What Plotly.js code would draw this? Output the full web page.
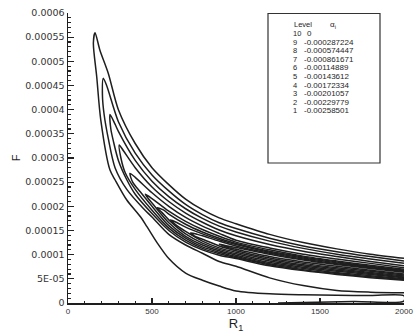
<!DOCTYPE html>
<html><head><meta charset="utf-8">
<script src="https://cdn.plot.ly/plotly-3.0.1.min.js"></script>
<style>html,body{margin:0;padding:0;background:#fff}#chart{width:414px;height:333px}</style>
</head><body><div id="chart"></div>
<script>
// Values of F are in units of 1e-4
const F_UNIT = 1e-4;

const L10_upR = [161, 190, 240, 300, 400, 500, 600, 700, 800, 900, 1000, 1200, 1400, 1600, 1800, 2000];
const L10_upF = [5.59, 5.23, 4.75, 4.0, 3.3, 2.8, 2.45, 2.15, 1.93, 1.76, 1.64, 1.42, 1.25, 1.12, 1.01, 0.925];
const L10_loR = [161, 151, 171, 195, 250, 280, 350, 430, 470, 530, 600, 700, 800, 900, 1000, 1200, 1400, 1600, 1800, 2000, 2000, 1700, 1250];
const L10_loF = [5.59, 5.38, 4.68, 3.79, 2.75, 2.55, 2.13, 1.79, 1.58, 1.25, 0.92, 0.62, 0.47, 0.35, 0.25, 0.19, 0.17, 0.16, 0.155, 0.15, 0.04, 0.03, 0.0];

const L9_upR = [210, 230, 300, 400, 500, 600, 700, 800, 900, 1000, 1200, 1400, 1600, 1800, 2000];
const L9_upF = [4.65, 4.5, 3.75, 3.1, 2.65, 2.32, 2.04, 1.83, 1.66, 1.54, 1.34, 1.18, 1.06, 0.96, 0.87];
const L9_loR = [210, 205, 215, 240, 280, 350, 450, 500, 600, 700, 800, 900, 1000, 1200, 1400, 1600, 1800, 2000];
const L9_loF = [4.65, 4.3, 3.9, 3.4, 2.8, 2.35, 1.95, 1.78, 1.42, 1.2, 1.03, 0.86, 0.76, 0.52, 0.36, 0.26, 0.225, 0.21];

const L8_upR = [250, 280, 300, 400, 500, 600, 700, 800, 900, 1000, 1200, 1400, 1600, 1800, 2000];
const L8_upF = [3.90, 3.7, 3.55, 2.95, 2.52, 2.2, 1.95, 1.75, 1.59, 1.47, 1.28, 1.13, 1.01, 0.91, 0.82];
const L8_loR = [250, 255, 270, 300, 350, 400, 500, 600, 700, 800, 900, 1000, 1200, 1400, 1600, 1800, 2000];
const L8_loF = [3.90, 3.6, 3.35, 2.95, 2.55, 2.25, 1.85, 1.50, 1.26, 1.10, 0.99, 0.92, 0.77, 0.67, 0.59, 0.525, 0.47];

const L7_upR = [305, 330, 400, 500, 600, 700, 800, 900, 1000, 1200, 1400, 1600, 1800, 2000];
const L7_upF = [3.27, 3.15, 2.8, 2.4, 2.1, 1.86, 1.67, 1.51, 1.39, 1.21, 1.07, 0.96, 0.86, 0.77];
const L7_loR = [305, 315, 340, 400, 500, 600, 700, 800, 900, 1000, 1200, 1400, 1600, 1800, 2000];
const L7_loF = [3.27, 3.0, 2.7, 2.35, 1.92, 1.55, 1.30, 1.13, 1.02, 0.94, 0.79, 0.69, 0.61, 0.545, 0.485];

const L6_upR = [369, 400, 500, 600, 700, 800, 900, 1000, 1200, 1400, 1600, 1800, 2000];
const L6_upF = [2.68, 2.6, 2.28, 2.0, 1.77, 1.59, 1.44, 1.30, 1.14, 1.01, 0.91, 0.82, 0.73];
const L6_loR = [369, 385, 430, 500, 600, 700, 800, 900, 1000, 1200, 1400, 1600, 1800, 2000];
const L6_loF = [2.68, 2.5, 2.3, 2.0, 1.60, 1.34, 1.16, 1.05, 0.96, 0.81, 0.715, 0.63, 0.565, 0.50];

const L5_upR = [460, 500, 600, 700, 800, 900, 1000, 1200, 1400, 1600, 1800, 2000];
const L5_upF = [2.25, 2.16, 1.9, 1.69, 1.52, 1.38, 1.26, 1.10, 0.97, 0.87, 0.78, 0.70];
const L5_loR = [460, 480, 500, 600, 700, 800, 900, 1000, 1200, 1400, 1600, 1800, 2000];
const L5_loF = [2.25, 2.15, 2.07, 1.66, 1.38, 1.20, 1.08, 0.99, 0.84, 0.74, 0.655, 0.59, 0.52];

const L4_upR = [530, 570, 600, 700, 800, 900, 1000, 1200, 1400, 1600, 1800, 2000];
const L4_upF = [1.97, 1.92, 1.84, 1.63, 1.47, 1.34, 1.23, 1.07, 0.95, 0.85, 0.76, 0.68];
const L4_loR = [530, 560, 600, 700, 800, 900, 1000, 1200, 1400, 1600, 1800, 2000];
const L4_loF = [1.97, 1.87, 1.72, 1.43, 1.24, 1.11, 1.02, 0.87, 0.765, 0.68, 0.61, 0.54];

const L3_upR = [610, 650, 700, 800, 900, 1000, 1200, 1400, 1600, 1800, 2000];
const L3_upF = [1.72, 1.66, 1.57, 1.43, 1.31, 1.21, 1.05, 0.93, 0.83, 0.745, 0.665];
const L3_loR = [610, 640, 700, 800, 900, 1000, 1200, 1400, 1600, 1800, 2000];
const L3_loF = [1.72, 1.62, 1.48, 1.28, 1.14, 1.05, 0.90, 0.79, 0.705, 0.63, 0.56];

const L2_upR = [730, 770, 800, 900, 1000, 1200, 1400, 1600, 1800, 2000];
const L2_upF = [1.45, 1.42, 1.39, 1.28, 1.18, 1.03, 0.91, 0.81, 0.73, 0.65];
const L2_loR = [730, 760, 800, 900, 1000, 1200, 1400, 1600, 1800, 2000];
const L2_loF = [1.45, 1.37, 1.32, 1.18, 1.08, 0.93, 0.82, 0.73, 0.655, 0.58];

const L1_upR = [900, 950, 1000, 1200, 1400, 1600, 1800, 2000];
const L1_upF = [1.22, 1.18, 1.15, 1.01, 0.89, 0.795, 0.715, 0.635];
const L1_loR = [900, 950, 1000, 1200, 1400, 1600, 1800, 2000];
const L1_loF = [1.22, 1.15, 1.11, 0.96, 0.85, 0.76, 0.68, 0.60];

const levelNames = ['10', '9', '8', '7', '6', '5', '4', '3', '2', '1'];
const alphaValues = ['0', '-0.000287224', '-0.000574447', '-0.000861671', '-0.00114889',
  '-0.00143612', '-0.00172334', '-0.00201057', '-0.00229779', '-0.00258501'];

const yTickVals = [0, 0.00005, 0.0001, 0.00015, 0.0002, 0.00025, 0.0003, 0.00035, 0.0004, 0.00045, 0.0005, 0.00055, 0.0006];
const yTickText = ['0', '5E-05', '0.0001', '0.00015', '0.0002', '0.00025', '0.0003', '0.00035', '0.0004', '0.00045', '0.0005', '0.00055', '0.0006'];
const xTickVals = [0, 500, 1000, 1500, 2000];

const contours = [
  [L10_upR, L10_upF, L10_loR, L10_loF],
  [L9_upR, L9_upF, L9_loR, L9_loF],
  [L8_upR, L8_upF, L8_loR, L8_loF],
  [L7_upR, L7_upF, L7_loR, L7_loF],
  [L6_upR, L6_upF, L6_loR, L6_loF],
  [L5_upR, L5_upF, L5_loR, L5_loF],
  [L4_upR, L4_upF, L4_loR, L4_loF],
  [L3_upR, L3_upF, L3_loR, L3_loF],
  [L2_upR, L2_upF, L2_loR, L2_loF],
  [L1_upR, L1_upF, L1_loR, L1_loF]
];

const traces = contours.map((c, i) => {
  const [uR, uF, lR, lF] = c;
  const x = lR.slice().reverse().concat(uR.slice(1));
  const y = lF.slice().reverse().concat(uF.slice(1)).map(v => v * F_UNIT);
  return {
    type: 'scatter', mode: 'lines', x: x, y: y, name: 'Level ' + levelNames[i],
    line: {color: '#1e1e1e', width: 1.5, shape: 'spline', smoothing: 0.8},
    showlegend: false, hoverinfo: 'skip'
  };
});

// plot area in pixels: x 68..404, y 13..303
const PX0 = 68, PW = 336, PY0 = 13, PH = 290;
const px = v => (v - PX0) / PW;
const py = v => (PY0 + PH - v) / PH;

const ann = [];
const tfont = {family: 'Liberation Sans, Arial, sans-serif', size: 8, color: '#1e1e1e'};
const lfont = {family: 'Liberation Sans, Arial, sans-serif', size: 7.5, color: '#1e1e1e'};
ann.push({xref: 'paper', yref: 'paper', x: px(292), y: py(25), xanchor: 'left', yanchor: 'middle', text: 'Level', showarrow: false, font: lfont});
ann.push({xref: 'paper', yref: 'paper', x: px(333), y: py(25), xanchor: 'center', yanchor: 'middle', text: 'α<sub>i</sub>', showarrow: false, font: tfont});
levelNames.forEach((lv, i) => {
  const yy = py(33.5 + 8.6 * i);
  const vx = alphaValues[i].charAt(0) === '-' ? 302 : 304.5;
  ann.push({xref: 'paper', yref: 'paper', x: px(291), y: yy, xanchor: 'left', yanchor: 'middle', text: lv, showarrow: false, font: lfont});
  ann.push({xref: 'paper', yref: 'paper', x: px(vx), y: yy, xanchor: 'left', yanchor: 'middle', text: alphaValues[i], showarrow: false, font: tfont});
});

const layout = {
  width: 414, height: 333,
  margin: {l: 68, r: 10, t: 13, b: 30, pad: 0},
  paper_bgcolor: '#fff', plot_bgcolor: '#fff',
  font: {family: 'DejaVu Sans, sans-serif', color: '#333'},
  showlegend: false,
  xaxis: {
    range: [0, 2000], tickvals: xTickVals, ticktext: xTickVals.map(String),
    ticks: 'inside', ticklen: 5, tickwidth: 1.2, tickcolor: '#222',
    showline: true, linecolor: '#1e1e1e', linewidth: 1.5, showgrid: false, zeroline: false,
    minor: {ticks: 'inside', ticklen: 2.5, dtick: 100, tickcolor: '#222', showgrid: false},
    tickfont: {family: 'Liberation Sans, Arial, sans-serif', size: 8, color: '#333'},
    title: {text: 'R<sub>1</sub>', font: {family: 'Liberation Sans, Arial, sans-serif', size: 13, color: '#1e1e1e'}, standoff: 0}
  },
  yaxis: {
    range: [0, 0.0006], tickvals: yTickVals, ticktext: yTickText,
    ticks: 'inside', ticklen: 6, tickwidth: 1.2, tickcolor: '#222',
    showline: true, linecolor: '#1e1e1e', linewidth: 1.5, showgrid: false, zeroline: false,
    minor: {ticks: 'inside', ticklen: 3, dtick: 0.00001, tickcolor: '#222', showgrid: false},
    tickfont: {family: 'DejaVu Sans, sans-serif', size: 9.5, color: '#333'},
    title: {text: 'F', font: {family: 'Liberation Sans, Arial, sans-serif', size: 11, color: '#1e1e1e'}, standoff: 2}
  },
  shapes: [{type: 'rect', xref: 'paper', yref: 'paper', x0: px(268), x1: px(380), y0: py(163), y1: py(13.5),
    line: {color: '#333', width: 1.2}, fillcolor: 'rgba(255,255,255,0)'}],
  annotations: ann
};

Plotly.newPlot('chart', traces, layout, {staticPlot: true, displayModeBar: false});
</script>
</body></html>
